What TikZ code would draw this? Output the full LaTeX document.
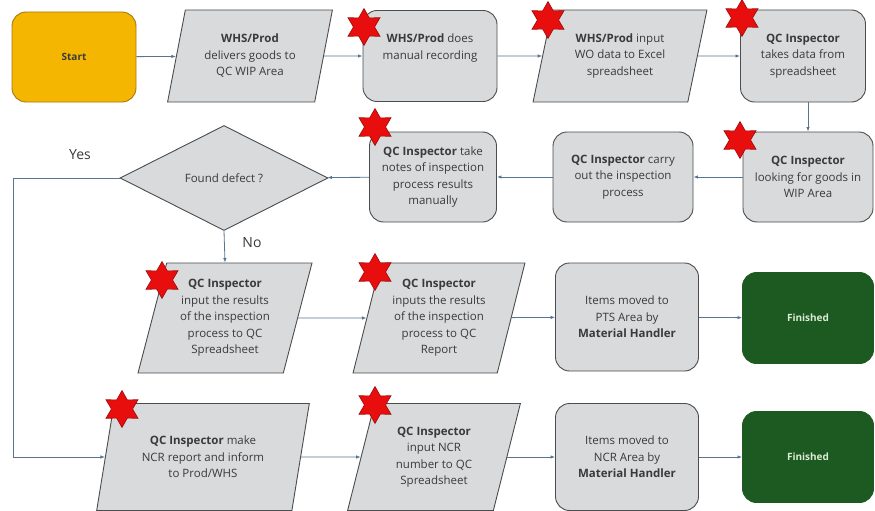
\documentclass[tikz,border=0pt]{standalone}
\usepackage{fontspec}
\setmainfont{Open Sans}
\usetikzlibrary{shapes.geometric, arrows.meta}

\definecolor{boxgrey}{HTML}{D9DADB}
\definecolor{edgegrey}{HTML}{4A4C4E}
\definecolor{textgrey}{HTML}{3A3A3A}
\definecolor{startgold}{HTML}{F5B602}
\definecolor{startedge}{HTML}{A47A12}
\definecolor{fingreen}{HTML}{1D5A22}
\definecolor{fintext}{HTML}{DCEBD6}
\definecolor{starred}{HTML}{E80E0E}
\definecolor{stardark}{HTML}{9E0A0A}
\definecolor{flowblue}{HTML}{587590}

\begin{document}
\begin{tikzpicture}[x=1pt, y=-1pt,
    txt/.style={align=center, text=textgrey, font=\fontsize{11.5}{16.5}\selectfont},
    box/.style={txt, draw=edgegrey, line width=0.9pt, fill=boxgrey, rounded corners=14pt, inner sep=2pt},
    para/.style={txt, trapezium, trapezium left angle=74, trapezium right angle=106,
        trapezium stretches=true, draw=edgegrey, line width=0.9pt, fill=boxgrey, inner sep=0pt},
    decision/.style={txt, diamond, draw=edgegrey, line width=0.9pt, fill=boxgrey, inner sep=0pt},
    terminal/.style={draw, line width=0.9pt, rounded corners=14pt, font=\fontsize{10}{12}\selectfont\bfseries},
    flow/.style={-{Latex[length=4.5pt, width=3.5pt]}, draw=flowblue, line width=0.8pt},
    answer/.style={text=textgrey, font=\fontsize{14}{16}\selectfont},
    redstar/.style={star, star points=6, star point ratio=1.75, minimum size=37pt, inner sep=0pt,
        fill=starred, draw=stardark, line width=0.6pt}
]
    \useasboundingbox (0,0) rectangle (875,511);

    % Row 1
    \node[terminal, fill=startgold, draw=startedge, text=textgrey, minimum width=124pt, minimum height=90pt] (start) at (74,57) {Start};
    \node[para, minimum width=165pt, minimum height=92pt] (deliver) at (250,56) {\textbf{WHS/Prod}\\delivers goods to\\QC WIP Area};
    \node[box, minimum width=134pt, minimum height=91pt] (record) at (430,56) {\textbf{WHS/Prod} does\\manual recording\\[2pt]};
    \node[para, minimum width=174pt, minimum height=92pt] (excel) at (620,56) {\textbf{WHS/Prod} input\\WO data to Excel\\spreadsheet};
    \node[box, minimum width=125pt, minimum height=92pt] (takedata) at (803,56) {\textbf{QC Inspector}\\takes data from\\spreadsheet};

    % Row 2
    \node[box, minimum width=130pt, minimum height=90pt] (looking) at (808,177) {\textbf{QC Inspector}\\looking for goods in\\WIP Area};
    \node[box, minimum width=140pt, minimum height=90pt] (carry) at (623,177) {\textbf{QC Inspector} carry\\out the inspection\\process};
    \node[box, minimum width=127pt, minimum height=90pt] (notes) at (433,177) {\textbf{QC Inspector} take\\notes of inspection\\process results\\manually};
    \node[decision, minimum width=208pt, minimum height=105pt] (defect) at (224,178) {Found defect ?};

    % Row 3 (no defect)
    \node[para, minimum width=174pt, minimum height=110pt] (inqc) at (225,318) {\textbf{QC Inspector}\\input the results\\of the inspection\\process to QC\\Spreadsheet};
    \node[para, minimum width=172pt, minimum height=110pt] (inreport) at (439,318) {\textbf{QC Inspector}\\inputs the results\\of the inspection\\process to QC\\Report};
    \node[box, minimum width=143pt, minimum height=108pt] (movepts) at (627,317) {Items moved to\\PTS Area by\\\textbf{Material Handler}};
    \node[terminal, fill=fingreen, draw=fingreen, text=fintext, minimum width=131pt, minimum height=91pt] (finpts) at (808,318) {Finished};

    % Row 4 (defect)
    \node[para, minimum width=213pt, minimum height=107pt] (ncr) at (203,457) {\textbf{QC Inspector} make\\NCR report and inform\\to Prod/WHS};
    \node[para, minimum width=173pt, minimum height=107pt] (inncr) at (434,457) {\textbf{QC Inspector}\\input NCR\\number to QC\\Spreadsheet};
    \node[box, minimum width=143pt, minimum height=107pt] (movencr) at (627,457) {Items moved to\\NCR Area by\\\textbf{Material Handler}};
    \node[terminal, fill=fingreen, draw=fingreen, text=fintext, minimum width=131pt, minimum height=91pt] (finncr) at (808,457) {Finished};

    % Connectors
    \draw[flow] (start) -- (deliver);
    \draw[flow] (deliver) -- (record);
    \draw[flow] (record) -- (excel);
    \draw[flow] (excel) -- (takedata);
    \draw[flow] (takedata.south -| looking.north) -- (looking.north);
    \draw[flow] (looking) -- (carry);
    \draw[flow] (carry) -- (notes);
    \draw[flow] (notes) -- (defect);
    \draw[flow] (defect.south) -- (inqc.north);
    \draw[flow] (inqc) -- (inreport);
    \draw[flow] (inreport) -- (movepts);
    \draw[flow] (movepts) -- (finpts);
    \coordinate (yesbend) at (13,178);
    \draw[flow] (defect.west) -- (yesbend) |- (ncr.west);
    \draw[flow] (ncr) -- (inncr);
    \draw[flow] (inncr) -- (movencr);
    \draw[flow] (movencr) -- (finncr);

    % Answers
    \node[answer] (yes) at (80,155) {Yes};
    \node[answer] (no) at (252,243) {No};

    % Stars
    \foreach \x/\y [count=\i] in {364/27, 548/20, 742/18, 375/127, 740/140, 162/280, 375/272, 122/409, 375/405} {
        \node[redstar] (star\i) at (\x,\y) {};
    }
\end{tikzpicture}
\end{document}
